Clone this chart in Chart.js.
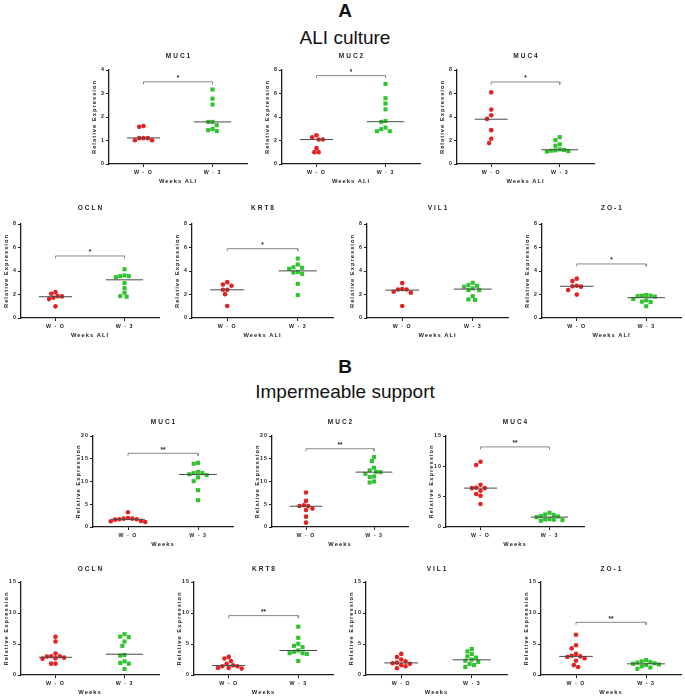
<!DOCTYPE html>
<html>
<head>
<meta charset="utf-8">
<script src="https://cdn.jsdelivr.net/npm/chart.js@4.4.1/dist/chart.umd.min.js"></script>
<style>
  html,body{margin:0;padding:0;background:#fff;}
  body{width:685px;height:698px;position:relative;overflow:hidden;font-family:"Liberation Sans",Arial,sans-serif;}
  .hd{position:absolute;left:0;width:690px;text-align:center;color:#111;line-height:1;}
  .panel{position:absolute;}
</style>
</head>
<body>
<div class="hd" style="top:1px;font-size:19px;font-weight:bold;">A</div>
<div class="hd" style="top:28px;font-size:19px;">ALI culture</div>
<div class="hd" style="top:357px;font-size:19px;font-weight:bold;">B</div>
<div class="hd" style="top:382px;font-size:19px;">Impermeable support</div>
<script>
// ---------------- DATA ----------------
const groups = ['W - O', 'W - 3'];
const genes = ['MUC1', 'MUC2', 'MUC4', 'OCLN', 'KRT8', 'VIL1', 'ZO-1'];
const xTitleALI = 'Weeks ALI';
const xTitleImp = 'Weeks';
const yTitle = 'Relative Expression';

// A: ALI culture
const aliMUC1_W0 = [1.62, 1.58, 1.10, 1.10, 1.10, 1.01, 1.01];
const aliMUC1_W3 = [3.17, 2.78, 2.53, 1.79, 1.79, 1.65, 1.49, 1.44, 1.40];
const aliMUC2_W0 = [2.45, 2.28, 2.08, 2.08, 1.35, 1.01, 1.01];
const aliMUC2_W3 = [6.82, 5.60, 5.15, 4.65, 3.66, 3.58, 3.10, 2.96, 2.79, 2.79];
const aliMUC4_W0 = [6.10, 4.63, 4.15, 3.84, 2.88, 2.15, 1.78];
const aliMUC4_W3 = [2.29, 2.03, 1.67, 1.55, 1.24, 1.19, 1.16, 1.13, 1.10, 1.05];
const aliOCLN_W0 = [2.20, 2.06, 1.86, 1.84, 1.72, 1.61, 0.99];
const aliOCLN_W3 = [4.15, 3.62, 3.56, 3.56, 3.47, 2.97, 2.54, 2.15, 1.86, 1.81];
const aliKRT8_W0 = [3.05, 2.85, 2.74, 2.40, 2.40, 2.03, 1.02];
const aliKRT8_W3 = [5.06, 4.55, 4.32, 4.27, 4.18, 3.93, 3.87, 3.76, 2.91, 1.95];
const aliVIL1_W0 = [2.97, 2.46, 2.43, 2.43, 2.23, 2.15, 1.02];
const aliVIL1_W3 = [3.00, 2.80, 2.74, 2.66, 2.52, 2.37, 2.37, 1.86, 1.58, 1.53];
const aliZO1_W0 = [3.35, 3.15, 2.75, 2.70, 2.67, 2.38, 1.99];
const aliZO1_W3 = [1.96, 1.90, 1.90, 1.87, 1.82, 1.62, 1.50, 1.39, 1.36, 1.00];
const aliMedW0 = [1.11, 2.08, 3.81, 1.81, 2.40, 2.37, 2.70];
const aliMedW3 = [1.79, 3.60, 1.21, 3.25, 4.01, 2.46, 1.73];
const aliSigY = [3.5, 7.52, 6.98, 5.28, 5.9, null, 4.6];
const aliSigText = ['*', '*', '*', '*', '*', '', '*'];
const aliYMax = [4, 8, 8, 8, 8, 8, 8];
const aliYStep = [1, 2, 2, 2, 2, 2, 2];

// B: Impermeable support
const impMUC1_W0 = [3.24, 1.99, 1.84, 1.84, 1.69, 1.69, 1.62, 1.32, 1.25, 1.10];
const impMUC1_W3 = [14.1, 13.9, 12.13, 11.84, 11.84, 11.6, 11.4, 10.9, 10.07, 8.09, 5.88];
const impMUC2_W0 = [7.57, 5.74, 4.78, 4.63, 4.63, 4.04, 3.75, 2.28, 0.96];
const impMUC2_W3 = [15.37, 14.49, 13.01, 12.43, 12.13, 12.06, 11.69, 11.1, 10.96, 10.0, 9.78];
const impMUC4_W0 = [10.76, 10.22, 6.96, 6.47, 6.41, 6.41, 5.98, 5.43, 5.16, 3.80];
const impMUC4_W3 = [2.34, 2.07, 1.96, 1.79, 1.74, 1.63, 1.30, 1.25, 1.20, 1.14, 1.03];
const impOCLN_W0 = [6.15, 5.40, 3.45, 3.02, 3.02, 2.97, 2.80, 2.70, 2.64, 1.83, 1.83];
const impOCLN_W3 = [6.58, 6.20, 6.10, 5.40, 4.70, 3.24, 3.13, 2.20, 1.94, 1.83, 0.97];
const impKRT8_W0 = [2.92, 2.65, 2.27, 1.79, 1.57, 1.41, 1.41, 1.14, 1.14, 1.03];
const impKRT8_W3 = [7.80, 6.00, 5.04, 4.71, 4.49, 3.95, 3.74, 3.52, 3.52, 3.41, 2.27];
const impVIL1_W0 = [3.4, 2.9, 2.5, 2.2, 2.0, 1.9, 1.8, 1.6, 1.4, 1.1];
const impVIL1_W3 = [4.2, 3.8, 3.4, 3.0, 2.8, 2.5, 2.3, 2.1, 1.8, 1.6, 1.3];
const impZO1_W0 = [6.5, 4.8, 4.3, 3.4, 3.1, 3.0, 2.9, 2.7, 2.3, 1.6, 1.3];
const impZO1_W3 = [2.4, 2.2, 2.1, 2.0, 1.9, 1.8, 1.7, 1.6, 1.4, 1.2, 1.0];
const impMedW0 = [1.69, 4.56, 6.41, 2.86, 1.52, 1.95, 3.0];
const impMedW3 = [11.54, 12.06, 1.63, 3.35, 3.95, 2.45, 1.8];
const impSigY = [16.2, 17.2, 13.2, null, 9.58, null, 8.5];
const impSigText = ['**', '**', '**', '', '**', '', '**'];
const impYMax = [20, 20, 15, 15, 15, 15, 15];
const impYStep = [5, 5, 5, 5, 5, 5, 5];

const aliW0 = [aliMUC1_W0, aliMUC2_W0, aliMUC4_W0, aliOCLN_W0, aliKRT8_W0, aliVIL1_W0, aliZO1_W0];
const aliW3 = [aliMUC1_W3, aliMUC2_W3, aliMUC4_W3, aliOCLN_W3, aliKRT8_W3, aliVIL1_W3, aliZO1_W3];
const impW0 = [impMUC1_W0, impMUC2_W0, impMUC4_W0, impOCLN_W0, impKRT8_W0, impVIL1_W0, impZO1_W0];
const impW3 = [impMUC1_W3, impMUC2_W3, impMUC4_W3, impOCLN_W3, impKRT8_W3, impVIL1_W3, impZO1_W3];

// ---------------- LAYOUT (axis left x, title y, plot top, plot width, plot height) ----------------
const aliBoxes = [
  [109, 56, 70, 141, 94], [282, 56, 70, 141, 94], [457, 56, 70, 140, 94],
  [21, 208, 224, 141, 94], [192, 208, 224, 144, 94], [367, 208, 224, 144, 94], [542, 208, 224, 142, 94]
];
const impBoxes = [
  [93, 422, 436, 143, 91], [272, 422, 436, 139, 91], [446, 422, 436, 141, 91],
  [21, 569, 582, 141, 93], [194, 569, 582, 142, 93], [366, 569, 582, 144, 93], [541, 569, 582, 143, 93]
];

const RED = '#e42222';
const GREEN = '#2fc42f';
const INK = '#1e1e1e';
const L = 20, R = 1, B = 22;
Chart.defaults.font.family = '"Liberation Sans", Arial, sans-serif';
Chart.defaults.color = INK;

// beeswarm offsets (in x units) so that markers do not overlap
function swarm(values, yMax, h, w) {
  const py = h / yMax, px = w / 2, d = 4.4;
  const placed = [], out = [];
  const order = values.map((v, i) => i).sort((a, b) => values[b] - values[a]);
  for (const i of order) {
    const y = values[i] * py;
    let best = 0;
    for (let k = 0; k < 60; k++) {
      const c = k === 0 ? 0 : (k % 2 ? -Math.ceil(k / 2) : Math.ceil(k / 2)) * d / 2;
      if (placed.every(p => Math.hypot(p.x - c, p.y - y) >= d)) { best = c; break; }
    }
    placed.push({x: best, y});
    out[i] = best / px;
  }
  return out;
}

const decoPlugin = {
  id: 'deco',
  beforeDraw(chart) { chart.ctx.letterSpacing = '1px'; },
  afterDraw(chart) {
    const o = chart.options.plugins.deco;
    const ctx = chart.ctx, ca = chart.chartArea;
    ctx.save();
    ctx.letterSpacing = '2px';
    ctx.fillStyle = INK;
    ctx.font = 'bold 6.5px "Liberation Sans", Arial, sans-serif';
    ctx.textAlign = 'center';
    ctx.textBaseline = 'middle';
    ctx.fillText(o.gene, (ca.left + ca.right) / 2 + 1, o.titleRel);
    if (o.sigY != null && o.sigText) {
      ctx.letterSpacing = '0px';
      ctx.textBaseline = 'alphabetic';
      const xs = chart.scales.x.getPixelForValue(1.5);
      const ys = chart.scales.y.getPixelForValue(o.sigY);
      ctx.fillText(o.sigText, xs, ys - 1.5);
    }
    ctx.restore();
  }
};

function makePanel(box, gene, xTitle, w0, w3, m0, m3, sigY, sigText, yMax, step) {
  const [ax, ty, top, w, h] = box;
  const cLeft = ax - L, cTop = ty - 6;
  const cW = L + w + R, cH = (top - cTop) + h + B;
  const div = document.createElement('div');
  div.className = 'panel';
  div.style.cssText = `left:${cLeft}px;top:${cTop}px;width:${cW}px;height:${cH}px;`;
  const cv = document.createElement('canvas');
  div.appendChild(cv);
  document.body.appendChild(div);

  const j0 = swarm(w0, yMax, h, w), j3 = swarm(w3, yMax, h, w);
  const drop = 2.5 * yMax / h;
  const datasets = [
    {data: w0.map((v, i) => ({x: 1 + j0[i], y: v})), pointStyle: 'circle', pointRadius: 2.3,
     backgroundColor: RED, borderColor: RED, pointBorderWidth: 0, showLine: false, order: 1},
    {data: w3.map((v, i) => ({x: 2 + j3[i], y: v})), pointStyle: 'rect', pointRadius: 2.9,
     backgroundColor: GREEN, borderColor: GREEN, pointBorderWidth: 0, showLine: false, order: 1},
    {data: [{x: 1 - 0.24, y: m0}, {x: 1 + 0.24, y: m0}], showLine: true, pointRadius: 0,
     borderColor: '#4a4a4a', borderWidth: 1, order: 0},
    {data: [{x: 2 - 0.27, y: m3}, {x: 2 + 0.27, y: m3}], showLine: true, pointRadius: 0,
     borderColor: '#4a4a4a', borderWidth: 1, order: 0}
  ];
  if (sigY != null) {
    datasets.push({data: [{x: 1, y: sigY - drop}, {x: 1, y: sigY}, {x: 2, y: sigY}, {x: 2, y: sigY - drop}],
      showLine: true, pointRadius: 0, borderColor: '#888', borderWidth: 1, order: 2});
  }
  new Chart(cv, {
    type: 'scatter',
    data: {datasets},
    plugins: [decoPlugin],
    options: {
      responsive: true, maintainAspectRatio: false, animation: false, events: [],
      layout: {padding: {top: top - cTop, right: R, left: 0, bottom: 0}},
      plugins: {legend: {display: false}, tooltip: {enabled: false}, title: {display: false},
        deco: {gene, titleRel: ty - cTop, sigY, sigText}},
      scales: {
        x: {
          type: 'linear', min: 0.5, max: 2.5,
          afterBuildTicks(s) { s.ticks = [{value: 1}, {value: 2}]; },
          afterFit(s) { s.height = B; },
          ticks: {callback: v => v === 1 ? groups[0] : (v === 2 ? groups[1] : ''), autoSkip: false,
            maxRotation: 0, font: {size: 5.3, weight: 'bold'}, color: INK, padding: 2},
          grid: {drawOnChartArea: false, drawTicks: true, tickLength: 3, color: INK, lineWidth: 1},
          border: {display: true, color: INK, width: 1.3},
          title: {display: true, text: xTitle, font: {size: 5.8, weight: 'bold'}, color: INK,
            padding: {top: 0, bottom: 1}}
        },
        y: {
          type: 'linear', min: 0, max: yMax,
          afterFit(s) { s.width = L; },
          ticks: {stepSize: step, font: {size: 5.3, weight: 'bold'}, color: INK, padding: 1},
          grid: {drawOnChartArea: false, drawTicks: true, tickLength: 3, color: INK, lineWidth: 1},
          border: {display: true, color: INK, width: 1.3},
          title: {display: true, text: yTitle, font: {size: 5.8, weight: 'bold'}, color: INK,
            padding: {top: 2.4, bottom: 0}}
        }
      }
    }
  });
}

genes.forEach((g, i) => {
  makePanel(aliBoxes[i], g, xTitleALI, aliW0[i], aliW3[i], aliMedW0[i], aliMedW3[i],
    aliSigY[i], aliSigText[i], aliYMax[i], aliYStep[i]);
  makePanel(impBoxes[i], g, xTitleImp, impW0[i], impW3[i], impMedW0[i], impMedW3[i],
    impSigY[i], impSigText[i], impYMax[i], impYStep[i]);
});
</script>
</body>
</html>
